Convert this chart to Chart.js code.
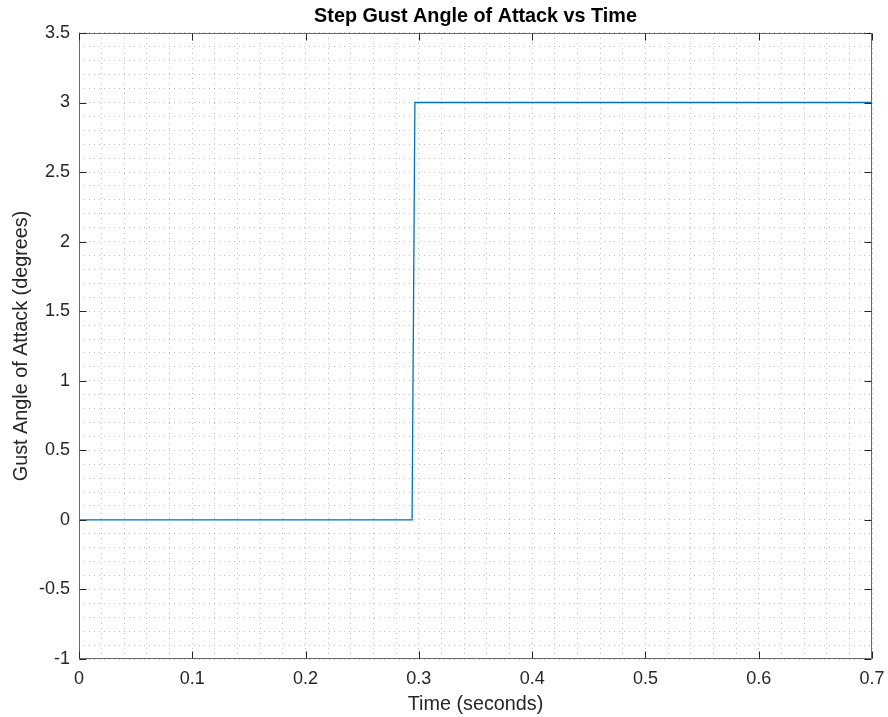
<!DOCTYPE html>
<html>
<head>
<meta charset="utf-8">
<script src="https://cdn.jsdelivr.net/npm/chart.js@4/dist/chart.umd.min.js"></script>
<style>
html,body{margin:0;padding:0;background:#fff;}
#wrap{width:888px;height:717px;position:relative;}
</style>
</head>
<body>
<div id="wrap"><canvas id="c" width="888" height="717"></canvas></div>
<script>
// ---- data ----
const timeSeconds = [0, 0.294, 0.2965, 0.7];
const gustAngleDeg = [0, 0, 3, 3];
const xMajorTicks = [0, 0.1, 0.2, 0.3, 0.4, 0.5, 0.6, 0.7];
const yMajorTicks = [-1, -0.5, 0, 0.5, 1, 1.5, 2, 2.5, 3, 3.5];
const xMinorStep = 0.02;
const yMinorStep = 0.1;
const chartTitle = 'Step Gust Angle of Attack vs Time';
const xTitle = 'Time (seconds)';
const yTitle = 'Gust Angle of Attack (degrees)';

const FONT = "'Liberation Sans', Arial, Helvetica, sans-serif";
const TEXT = '#262626';

function isMajor(v, list) {
  return list.some(m => Math.abs(m - v) < 1e-7);
}
function fmt(v) {
  const r = Math.round(v * 1000) / 1000;
  return String(r);
}

const boxPlugin = {
  id: 'matlabBox',
  afterDraw(chart) {
    const {ctx, chartArea: a, scales} = chart;
    ctx.save();
    ctx.strokeStyle = '#6a6a6a';
    ctx.lineWidth = 1;
    const L = Math.round(a.left) + 0.5, R = Math.round(a.right) - 0.5;
    const T = Math.round(a.top) + 0.5, B = Math.round(a.bottom) - 0.5;
    ctx.beginPath();
    ctx.rect(L, T, R - L, B - T);
    ctx.stroke();
    const tl = 7;
    ctx.strokeStyle = '#262626';
    ctx.beginPath();
    xMajorTicks.forEach(v => {
      const x = Math.round(scales.x.getPixelForValue(v)) + 0.5;
      ctx.moveTo(x, B); ctx.lineTo(x, B - tl);
      ctx.moveTo(x, T); ctx.lineTo(x, T + tl);
    });
    yMajorTicks.forEach(v => {
      const y = Math.round(scales.y.getPixelForValue(v)) + 0.5;
      ctx.moveTo(L, y); ctx.lineTo(L + tl, y);
      ctx.moveTo(R, y); ctx.lineTo(R - tl, y);
    });
    ctx.stroke();
    ctx.restore();
  }
};

new Chart(document.getElementById('c'), {
  type: 'scatter',
  data: {
    datasets: [{
      data: timeSeconds.map((t, i) => ({x: t, y: gustAngleDeg[i]})),
      showLine: true,
      borderColor: '#0072BD',
      borderWidth: 1.3,
      pointRadius: 0,
      tension: 0,
      fill: false
    }]
  },
  options: {
    responsive: false,
    animation: false,
    devicePixelRatio: 1,
    layout: {padding: {left: 0, right: 16, top: 0, bottom: 0}},
    plugins: {
      legend: {display: false},
      tooltip: {enabled: false},
      title: {
        display: true,
        fullSize: false,
        align: 'center',
        text: chartTitle,
        color: '#000',
        font: {family: FONT, size: 19.8, weight: 'bold', lineHeight: 1.2},
        padding: {top: 5, bottom: 4.2}
      }
    },
    scales: {
      x: {
        type: 'linear',
        min: 0, max: 0.7,
        afterFit(s) { s.height = 58; s.paddingLeft = 0; s.paddingRight = 0; },
        afterBuildTicks(s) {
          const t = [];
          for (let i = 0; i <= Math.round(0.7 / xMinorStep); i++) t.push({value: +(i * xMinorStep).toFixed(4)});
          s.ticks = t;
        },
        ticks: {
          autoSkip: false,
          maxRotation: 0,
          padding: 9,
          color: TEXT,
          font: {family: FONT, size: 18},
          callback: (v) => isMajor(v, xMajorTicks) ? fmt(v) : ''
        },
        grid: {
          color: 'rgba(0,0,0,0.25)',
          lineWidth: 1,
          drawTicks: false
        },
        border: {display: false, dash: [1, 4]},
        title: {
          display: true,
          text: xTitle,
          color: TEXT,
          font: {family: FONT, size: 19.8, lineHeight: 1.2},
          padding: {top: 0, bottom: 1}
        }
      },
      y: {
        type: 'linear',
        min: -1, max: 3.5,
        afterFit(s) { s.width = 79; s.paddingTop = 0; s.paddingBottom = 0; },
        afterBuildTicks(s) {
          const t = [];
          for (let i = 0; i <= Math.round(4.5 / yMinorStep); i++) t.push({value: +(-1 + i * yMinorStep).toFixed(4)});
          s.ticks = t;
        },
        ticks: {
          autoSkip: false,
          padding: 9,
          color: TEXT,
          font: {family: FONT, size: 18},
          callback: (v) => isMajor(v, yMajorTicks) ? fmt(v) : ''
        },
        grid: {
          color: 'rgba(0,0,0,0.25)',
          lineWidth: 1,
          drawTicks: false
        },
        border: {display: false, dash: [1, 4]},
        title: {
          display: true,
          text: yTitle,
          color: TEXT,
          font: {family: FONT, size: 19.8, lineHeight: 1.2},
          padding: {top: 10, bottom: 0}
        }
      }
    }
  },
  plugins: [boxPlugin]
});
</script>
</body>
</html>
